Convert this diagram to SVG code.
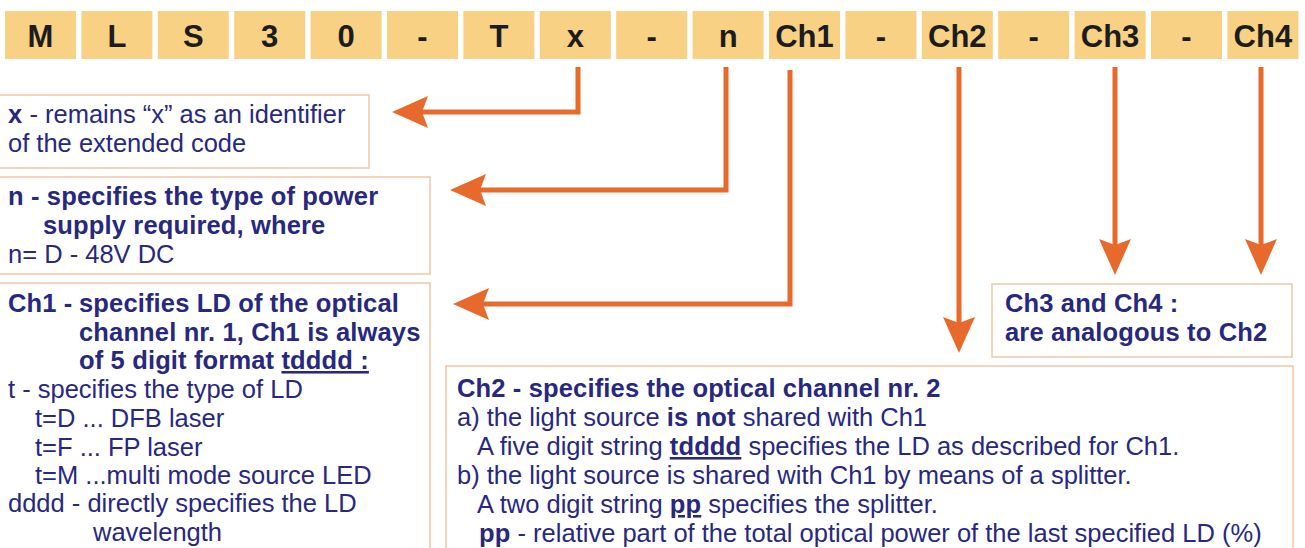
<svg xmlns="http://www.w3.org/2000/svg" width="1305" height="548" viewBox="0 0 1305 548">
<style>
.cell{fill:#F9D184;}
.ct{font-family:"Liberation Sans",Arial,Helvetica,sans-serif;font-weight:bold;font-size:31px;fill:#1c1c1c;text-anchor:middle;}
.box{fill:#ffffff;stroke:#F2C6A2;stroke-width:1.5;}
.t{font-family:"Liberation Sans",Arial,Helvetica,sans-serif;font-size:25.5px;fill:#28287E;}
.b{font-weight:bold;letter-spacing:0.15px;}
.u{text-decoration:underline;}
.conn{fill:none;stroke:#E8692C;stroke-width:5;stroke-linejoin:miter;}
</style>
<defs>
<marker id="ah" viewBox="0 0 36 32" refX="6" refY="16" markerWidth="36" markerHeight="32" markerUnits="userSpaceOnUse" orient="auto">
<path d="M6,16 L0,0 L36,16 L0,32 Z" fill="#E8692C"/>
</marker>
</defs>
<rect width="1305" height="548" fill="#ffffff"/>
<g id="code">
<rect class="cell" x="5" y="11" width="71" height="48"/><text class="ct" x="40.5" y="47">M</text>
<rect class="cell" x="81.4" y="11" width="71" height="48"/><text class="ct" x="116.9" y="47">L</text>
<rect class="cell" x="157.8" y="11" width="71" height="48"/><text class="ct" x="193.3" y="47">S</text>
<rect class="cell" x="234.2" y="11" width="71" height="48"/><text class="ct" x="269.7" y="47">3</text>
<rect class="cell" x="310.6" y="11" width="71" height="48"/><text class="ct" x="346.1" y="47">0</text>
<rect class="cell" x="387" y="11" width="71" height="48"/><text class="ct" x="422.5" y="47">-</text>
<rect class="cell" x="463.4" y="11" width="71" height="48"/><text class="ct" x="498.9" y="47">T</text>
<rect class="cell" x="539.8" y="11" width="71" height="48"/><text class="ct" x="575.3" y="47">x</text>
<rect class="cell" x="616.2" y="11" width="71" height="48"/><text class="ct" x="651.7" y="47">-</text>
<rect class="cell" x="692.6" y="11" width="71" height="48"/><text class="ct" x="728.1" y="47">n</text>
<rect class="cell" x="769" y="11" width="71" height="48"/><text class="ct" x="804.5" y="47">Ch1</text>
<rect class="cell" x="845.4" y="11" width="71" height="48"/><text class="ct" x="880.9" y="47">-</text>
<rect class="cell" x="921.8" y="11" width="71" height="48"/><text class="ct" x="957.3" y="47">Ch2</text>
<rect class="cell" x="998.2" y="11" width="71" height="48"/><text class="ct" x="1033.7" y="47">-</text>
<rect class="cell" x="1074.6" y="11" width="71" height="48"/><text class="ct" x="1110.1" y="47">Ch3</text>
<rect class="cell" x="1151" y="11" width="71" height="48"/><text class="ct" x="1186.5" y="47">-</text>
<rect class="cell" x="1227.4" y="11" width="71" height="48"/><text class="ct" x="1262.9" y="47">Ch4</text>
</g>
<g id="connectors">
<path class="conn" d="M578,67 V112 H422" marker-end="url(#ah)"/>
<path class="conn" d="M726,67 V190 H480" marker-end="url(#ah)"/>
<path class="conn" d="M790,70 V304 H483" marker-end="url(#ah)"/>
<path class="conn" d="M959,67 V323" marker-end="url(#ah)"/>
<path class="conn" d="M1115,67 V245" marker-end="url(#ah)"/>
<path class="conn" d="M1261,67 V245" marker-end="url(#ah)"/>
</g>
<g id="box-x">
<rect class="box" x="-2" y="95" width="371" height="73"/>
<text class="t" x="8" y="123"><tspan class="b">x</tspan> - remains “x” as an identifier</text>
<text class="t" x="8" y="152">of the extended code</text>
</g>
<g id="box-n">
<rect class="box" x="-2" y="177" width="432" height="97"/>
<text class="t b" x="8" y="205">n - specifies the type of power</text>
<text class="t b" x="43" y="234">supply required, where</text>
<text class="t" x="8" y="263">n= D - 48V DC</text>
</g>
<g id="box-ch1">
<rect class="box" x="-2" y="283" width="432" height="280"/>
<text class="t b" x="8" y="312">Ch1 - <tspan x="79">specifies LD of the optical</tspan></text>
<text class="t b" x="79" y="341">channel nr. 1, Ch1 is always</text>
<text class="t b" x="79" y="369">of 5 digit format <tspan class="u">tdddd :</tspan></text>
<text class="t" x="8" y="398">t - specifies the type of LD</text>
<text class="t" x="35" y="427">t=D ... DFB laser</text>
<text class="t" x="35" y="456">t=F ... FP laser</text>
<text class="t" x="35" y="484">t=M ...multi mode source LED</text>
<text class="t" x="8" y="512">dddd - directly specifies the LD</text>
<text class="t" x="93" y="541">wavelength</text>
</g>
<g id="box-ch34">
<rect class="box" x="992" y="284" width="300" height="73"/>
<text class="t b" x="1005" y="312">Ch3 and Ch4 :</text>
<text class="t b" x="1005" y="341">are analogous to Ch2</text>
</g>
<g id="box-ch2">
<rect class="box" x="446" y="366" width="847" height="200"/>
<text class="t b" x="457" y="397">Ch2 - specifies the optical channel nr. 2</text>
<text class="t" x="457" y="426">a) the light source <tspan class="b">is not</tspan> shared with Ch1</text>
<text class="t" x="477" y="455">A five digit string <tspan class="b u">tdddd</tspan> specifies the LD as described for Ch1.</text>
<text class="t" x="457" y="484">b) the light source is shared with Ch1 by means of a splitter.</text>
<text class="t" x="477" y="513">A two digit string <tspan class="b u">pp</tspan> specifies the splitter.</text>
<text class="t" x="479" y="542"><tspan class="b">pp</tspan> - relative part of the total optical power of the last specified LD (%)</text>
</g>
</svg>
